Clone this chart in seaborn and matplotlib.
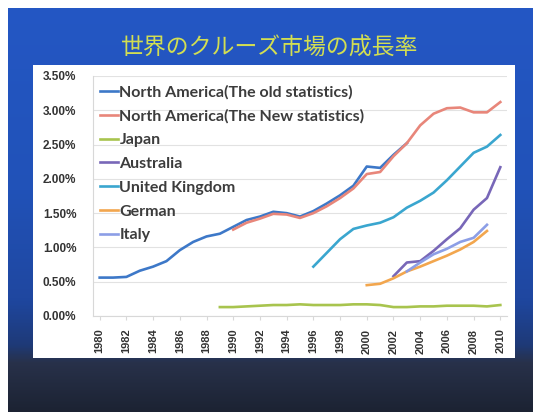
import numpy as np
import pandas as pd
import matplotlib
matplotlib.use("Agg")
import matplotlib.pyplot as plt
from matplotlib.colors import LinearSegmentedColormap
from matplotlib.patches import Rectangle
import seaborn as sns

# ---------------- data ----------------
title = "世界のクルーズ市場の成長率"

na_old_years = list(range(1980, 2004))
na_old_vals = [0.56, 0.56, 0.57, 0.66, 0.72, 0.80, 0.96, 1.08, 1.16, 1.20, 1.30, 1.40,
               1.45, 1.52, 1.50, 1.45, 1.53, 1.64, 1.76, 1.90, 2.18, 2.16, 2.35, 2.52]

na_new_years = list(range(1990, 2011))
na_new_vals = [1.26, 1.36, 1.42, 1.49, 1.48, 1.43, 1.50, 1.60, 1.72, 1.86, 2.07, 2.10,
               2.33, 2.52, 2.78, 2.95, 3.03, 3.04, 2.97, 2.97, 3.12]

japan_years = list(range(1989, 2011))
japan_vals = [0.13, 0.13, 0.14, 0.15, 0.16, 0.16, 0.17, 0.16, 0.16, 0.16, 0.17, 0.17,
              0.16, 0.13, 0.13, 0.14, 0.14, 0.15, 0.15, 0.15, 0.14, 0.16]

australia_years = list(range(2002, 2011))
australia_vals = [0.58, 0.78, 0.80, 0.95, 1.12, 1.28, 1.55, 1.72, 2.17]

uk_years = list(range(1996, 2011))
uk_vals = [0.72, 0.92, 1.12, 1.27, 1.32, 1.36, 1.44, 1.58, 1.68, 1.80, 1.98, 2.18,
           2.38, 2.47, 2.64]

german_years = list(range(2000, 2010))
german_vals = [0.45, 0.47, 0.55, 0.65, 0.72, 0.80, 0.88, 0.97, 1.08, 1.24]

italy_years = list(range(2003, 2010))
italy_vals = [0.65, 0.78, 0.90, 0.98, 1.08, 1.14, 1.33]

series_names = ["North America(The old statistics)", "North America(The New statistics)",
                "Japan", "Australia", "United Kingdom", "German", "Italy"]
series_colors = ["#3d78c8", "#e8867a", "#a8c44e", "#7867b8", "#3aa6cf", "#f2a64e", "#8c9ee6"]

y_ticks = [0.0, 0.5, 1.0, 1.5, 2.0, 2.5, 3.0, 3.5]
y_ticklabels = ["0.00%", "0.50%", "1.00%", "1.50%", "2.00%", "2.50%", "3.00%", "3.50%"]
x_ticks = list(range(1980, 2011, 2))

# ---------------- build table ----------------
frames = []
for name, yrs, vals in zip(series_names,
                           [na_old_years, na_new_years, japan_years, australia_years,
                            uk_years, german_years, italy_years],
                           [na_old_vals, na_new_vals, japan_vals, australia_vals,
                            uk_vals, german_vals, italy_vals]):
    frames.append(pd.DataFrame({"year": yrs, "value": vals, "series": name}))
df = pd.concat(frames, ignore_index=True)

# ---------------- figure ----------------
W, H = 540, 412
fig = plt.figure(figsize=(W / 100, H / 100), dpi=100, facecolor="white")

# slide background
bg = fig.add_axes([0, 0, 1, 1], zorder=-10)
bg.set_xlim(0, W)
bg.set_ylim(H, 0)
bg.axis("off")
stops = [(0.0, "#2457c4"), (0.45, "#2152b8"), (0.72, "#1f47a0"), (0.835, "#1e3a78"),
         (0.88, "#28314a"), (1.0, "#1c2333")]
cmap = LinearSegmentedColormap.from_list("slide", stops)
grad = np.linspace(0, 1, 400).reshape(-1, 1)
bg.imshow(grad, cmap=cmap, aspect="auto", extent=[8, 533, H, 8], interpolation="bilinear")
bg.add_patch(Rectangle((33, 65), 482, 293, facecolor="white", edgecolor="none"))
bg.text(270, 48, title, ha="center", va="center", fontsize=16.5, color="#d2de52",
        family=["Noto Sans CJK JP", "DejaVu Sans"])

# chart
ax = fig.add_axes([93 / W, 1 - 316 / H, 414 / W, 240 / H])
ax.set_facecolor("none")
sns.lineplot(data=df, x="year", y="value", hue="series", hue_order=series_names,
             palette=dict(zip(series_names, series_colors)), linewidth=1.9, ax=ax,
             legend=True)
ax.set_xlim(1979.5, 2010.5)
ax.set_ylim(0, 3.5)
ax.set_yticks(y_ticks)
ax.set_yticklabels(y_ticklabels, fontsize=8.5, fontweight="bold", color="#333333",
                   family="Liberation Sans")
ax.set_xticks(x_ticks)
ax.set_xticklabels([str(x) for x in x_ticks], rotation=90, fontsize=8,
                   fontweight="bold", color="#333333", family="Liberation Sans")
ax.set_xlabel("")
ax.set_ylabel("")
ax.grid(axis="y", color="#e2e2e2", linewidth=0.8)
ax.grid(axis="x", visible=False)
ax.set_axisbelow(True)
for s in ["top", "right"]:
    ax.spines[s].set_visible(False)
ax.spines["left"].set_color("#d8d8d8")
ax.spines["bottom"].set_color("#d8d8d8")
ax.tick_params(axis="y", length=0, pad=12)
ax.tick_params(axis="x", length=3, color="#d8d8d8", pad=6)

handles, labels = ax.get_legend_handles_labels()
ax.legend(handles, labels, loc="upper left", bbox_to_anchor=(100 / W, 1 - 85 / H),
          bbox_transform=fig.transFigure, frameon=False, borderpad=0, borderaxespad=0,
          handlelength=1.1, handletextpad=0.12, labelspacing=0.6,
          prop={"family": "Lato", "weight": "bold", "size": 11.5},
          labelcolor="#3c3c3c")

fig.savefig("out.png", dpi=100, facecolor="white")
